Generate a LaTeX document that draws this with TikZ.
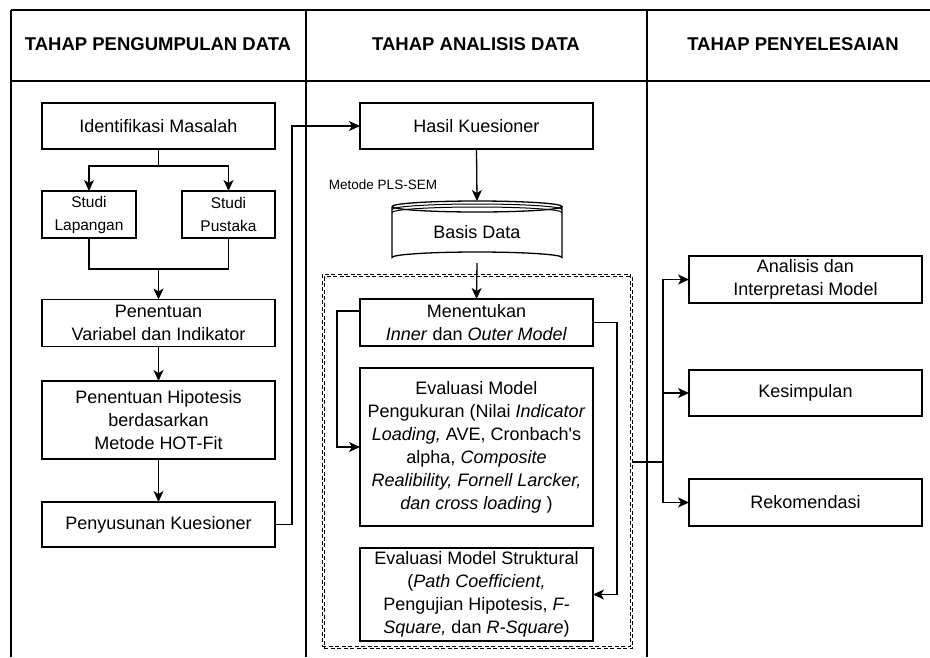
\documentclass[tikz,border=0pt]{standalone}
\usepackage{fontspec}
\setmainfont{Liberation Sans}
\usetikzlibrary{arrows.meta,calc}
\begin{document}
\begin{tikzpicture}[x=1pt,y=-1pt,
  every node/.style={inner sep=0pt, outer sep=0pt},
  box/.style={draw, line width=1.3pt, align=center, font=\fontsize{18}{23}\selectfont},
  smallbox/.style={box, font=\fontsize{15.5}{23}\selectfont},
  head/.style={font=\fontsize{18.5}{22}\selectfont\bfseries},
  conn/.style={line width=1.3pt},
  arr/.style={conn, -{Stealth[length=11pt,width=10pt,inset=3pt]}},
  grid/.style={line width=1.3pt},
  dbox/.style={draw, line width=1pt, dash pattern=on 4pt off 2.5pt, minimum width=308pt, minimum height=372pt}
]
\useasboundingbox (0,0) rectangle (930,657);
% table
\draw[grid] (11,10) -- (930,10);
\draw[grid] (11,81) -- (930,81);
\draw[grid] (11,10) -- (11,657);
\draw[grid] (306,10) -- (306,657);
\draw[grid] (647,10) -- (647,657);
\node[head] (h1) at (158,44) {TAHAP PENGUMPULAN DATA};
\node[head] (h2) at (476,44) {TAHAP ANALISIS DATA};
\node[head] (h3) at (793,44) {TAHAP PENYELESAIAN};

% left column
\node[box, minimum width=233pt, minimum height=46pt] (idm) at (158.5,126) {Identifikasi Masalah};
\node[smallbox, minimum width=94pt, minimum height=47pt] (sl) at (89,214.5) {Studi\\Lapangan};
\node[smallbox, minimum width=93pt, minimum height=47pt] (sp) at (228.5,214.5) {Studi\\Pustaka};
\node[box, minimum width=233pt, minimum height=47pt] (pv) at (158.5,323) {Penentuan\\Variabel dan Indikator};
\node[box, minimum width=233pt, minimum height=78pt] (ph) at (158.5,420) {Penentuan Hipotesis\\berdasarkan\\Metode HOT-Fit};
\node[box, minimum width=233pt, minimum height=45pt] (pk) at (158.5,524.5) {Penyusunan Kuesioner};

% middle column
\node[box, minimum width=233pt, minimum height=46pt] (hk) at (476.5,126) {Hasil Kuesioner};
\node[font=\fontsize{13.5}{16}\selectfont] (pls) at (383,185) {Metode PLS-SEM};
\node[minimum width=170pt, minimum height=62pt, font=\fontsize{18}{23}\selectfont] (db) at (477,232) {\raisebox{-6pt}{Basis Data}};
\draw[line width=1.3pt] (392,206.5) arc[start angle=180, end angle=-180, x radius=85, y radius=5.5];
\draw[line width=1pt] (392,209.5) arc[start angle=180, end angle=360, x radius=85, y radius=5.5];
\draw[line width=1pt] (392,212.5) arc[start angle=180, end angle=360, x radius=85, y radius=5.5];
\draw[line width=1.3pt] (392,206.5) -- (392,257.5) arc[start angle=180, end angle=360, x radius=85, y radius=5.5] -- (562,206.5);

\node[dbox] (dbA) at (476,460) {};
\node[dbox] (dbB) at (478,462.5) {};

\node[box, minimum width=233pt, minimum height=47pt] (mm) at (476.5,322.5) {Menentukan\\\textit{Inner} dan \textit{Outer Model}};
\node[box, minimum width=233pt, minimum height=158pt] (ep) at (476.5,447) {Evaluasi Model\\Pengukuran (Nilai \textit{Indicator}\\\textit{Loading,} AVE, Cronbach\textquotesingle s\\alpha, \textit{Composite}\\\textit{Realibility, Fornell Larcker,}\\\textit{dan cross loading} )};
\node[box, minimum width=233pt, minimum height=93pt] (es) at (476.5,594.5) {Evaluasi Model Struktural\\(\textit{Path Coefficient,}\\Pengujian Hipotesis, \textit{F-}\\\textit{Square,} dan \textit{R-Square})};

% right column
\node[box, minimum width=233pt, minimum height=47pt] (an) at (805.5,279.5) {Analisis dan\\Interpretasi Model};
\node[box, minimum width=233pt, minimum height=46pt] (ks) at (805.5,393) {Kesimpulan};
\node[box, minimum width=233pt, minimum height=47pt] (rk) at (805.5,502.5) {Rekomendasi};

% connectors left
\coordinate (spl) at (158.5,166);
\coordinate (mrg) at (158.5,269);
\draw[conn] (idm.south) -- (spl);
\draw[arr] (spl) -| (sl.north);
\draw[arr] (spl) -| (sp.north);
\draw[conn] (sl.south) |- (mrg) -| (sp.south);
\draw[arr] (mrg) -- (pv.north);
\draw[arr] (pv.south) -- (ph.north);
\draw[arr] (ph.south) -- (pk.north);
\draw[arr] (pk.east) -- ++(17,0) |- (hk.west);

% connectors middle
\draw[arr] (hk.south) -- (db.north);
\draw[arr] (db.south) -- (mm.north);
\draw[arr] ([yshift=11.5pt]mm.west) -- ++(-23,0) |- (ep.west);
\draw[arr] (mm.east) -- ++(24,0) |- (es.east);

% connectors right
\coordinate (hub) at (663,462);
\coordinate (dbx) at (dbB.east |- hub);
\draw[conn] (dbx) -- (hub);
\draw[arr] (hub) |- (an.west);
\draw[arr] (hub) |- (ks.west);
\draw[arr] (hub) |- (rk.west);
\end{tikzpicture}
\end{document}
